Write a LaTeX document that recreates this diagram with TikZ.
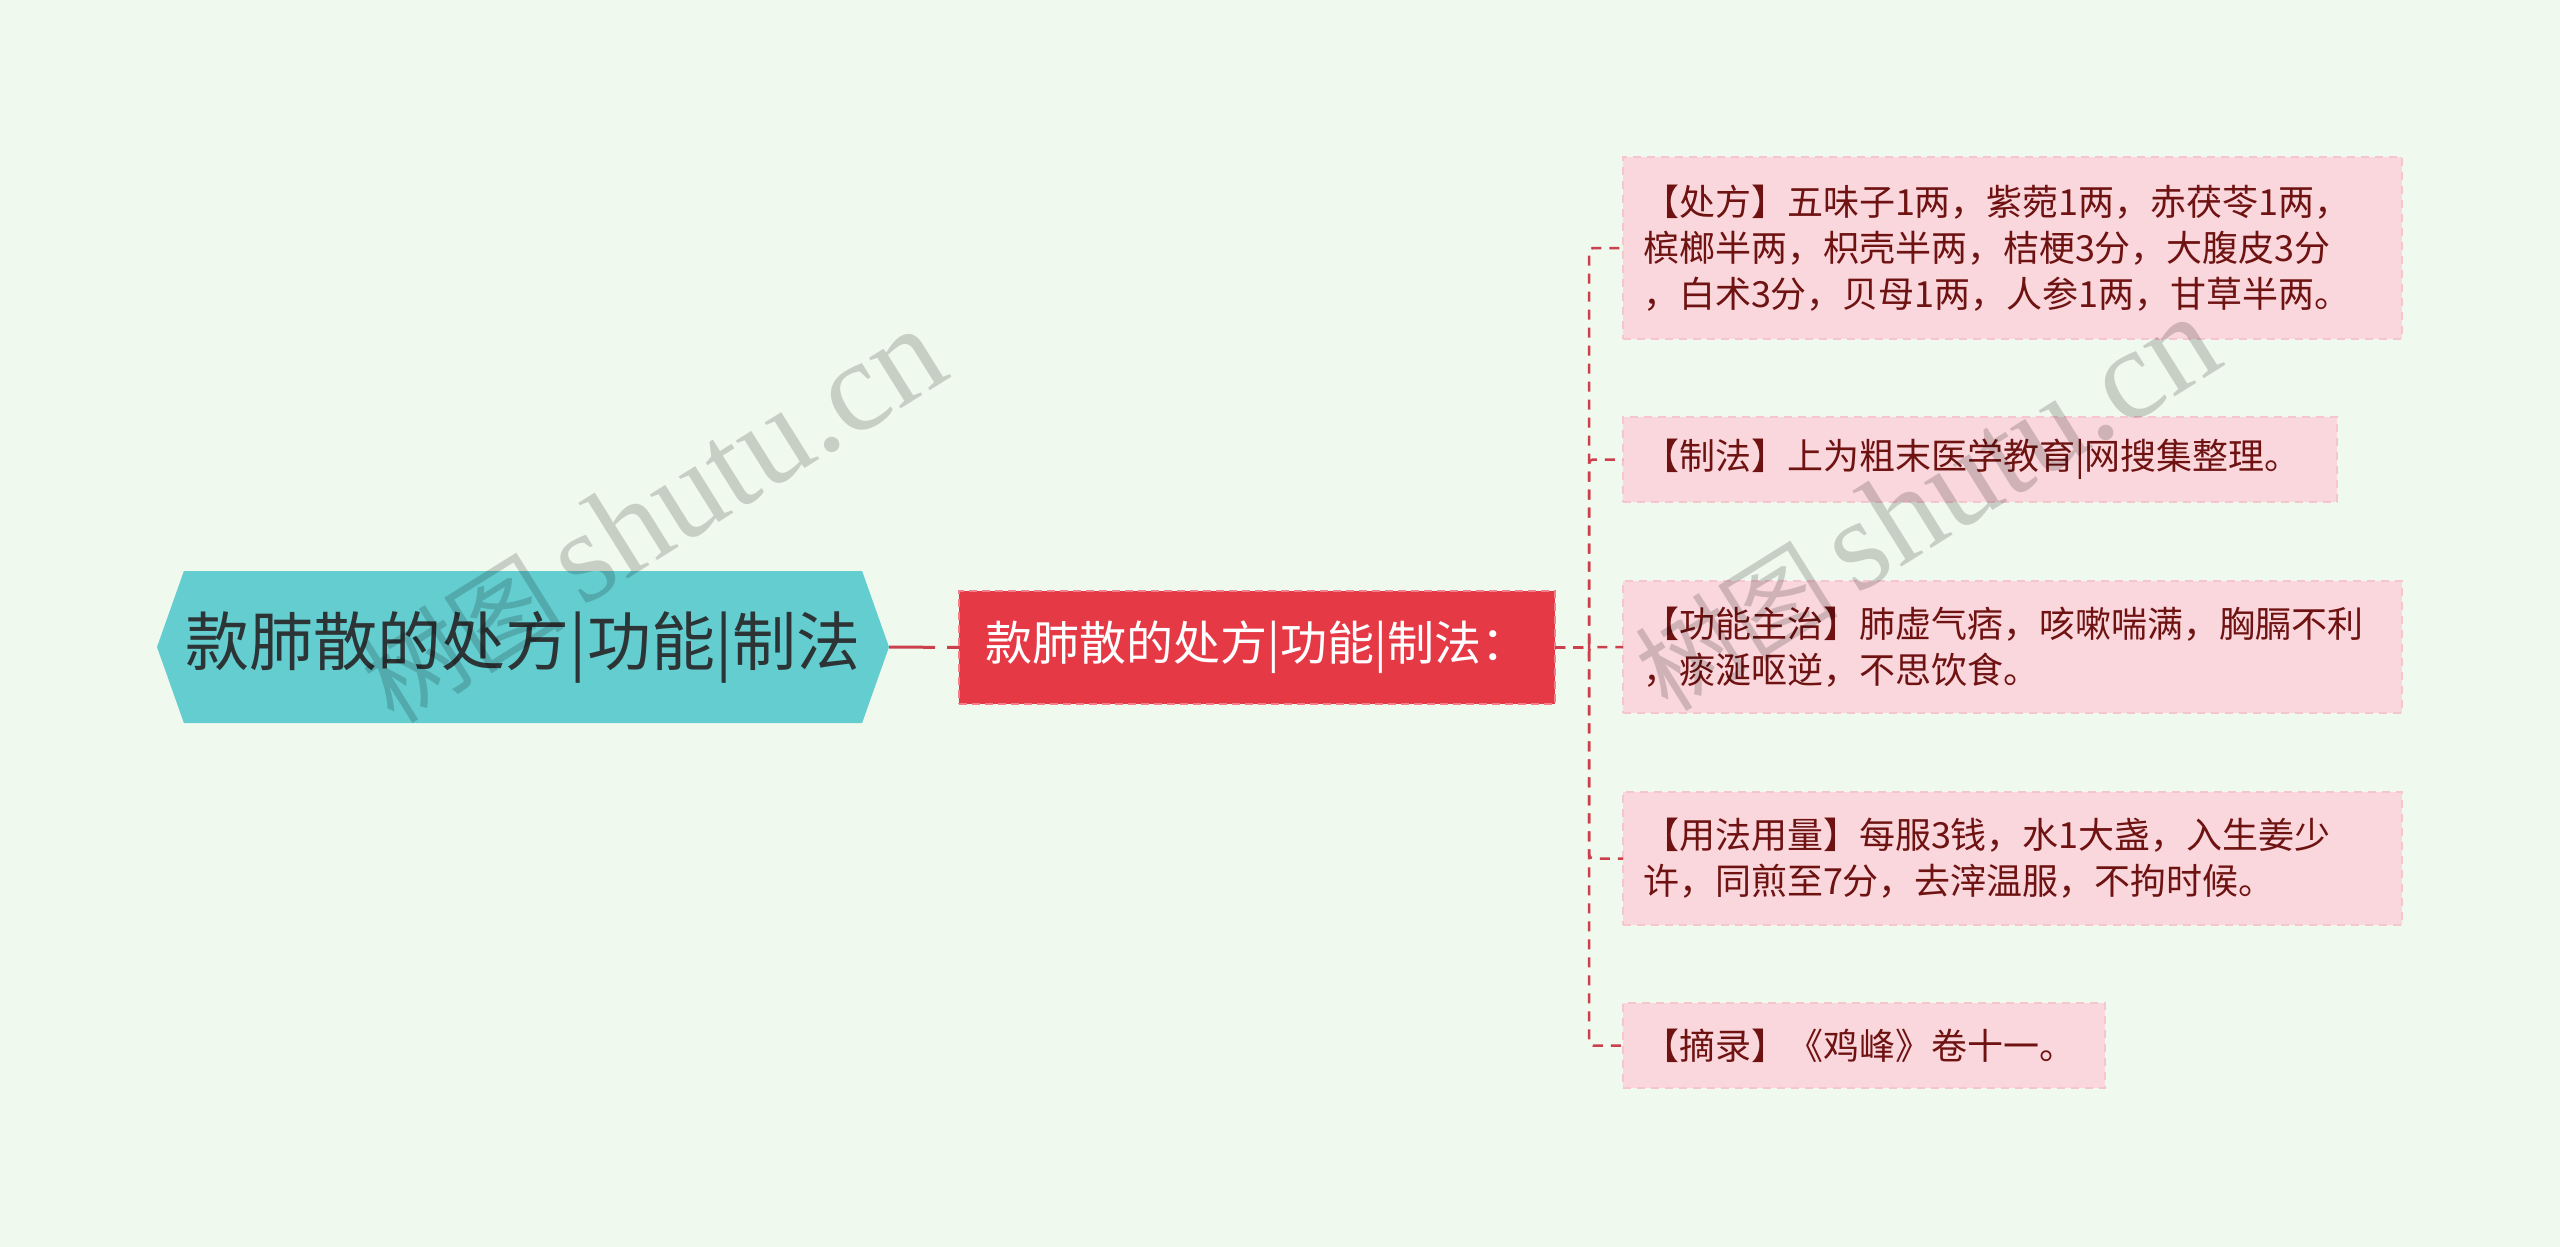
\documentclass[tikz,border=0pt]{standalone}
\usepackage{fontspec}
\setmainfont{Noto Sans CJK SC}
\newfontfamily\wmlatin{Liberation Serif}
\usepackage{tikz}
\usepackage{xcolor}
\usetikzlibrary{shapes.symbols}
\usetikzlibrary{positioning}

\definecolor{bgmint}{RGB}{240,249,238}
\definecolor{rootteal}{RGB}{99,205,207}
\definecolor{roottext}{RGB}{45,52,54}
\definecolor{hubred}{RGB}{230,57,70}
\definecolor{hubedge}{RGB}{242,128,138}
\definecolor{leafpink}{RGB}{250,215,220}
\definecolor{leafedge}{RGB}{246,198,205}
\definecolor{leaftext}{RGB}{110,18,18}
\definecolor{linkred}{RGB}{204,64,78}

\begin{document}
\begin{tikzpicture}[x=1pt, y=-1pt,
	every node/.style={inner sep=0pt, outer sep=0pt},
	rootnode/.style={signal, signal to=west and east, signal pointer angle=141, fill=rootteal, text=roottext, minimum width=732pt, minimum height=152pt, font=\fontsize{64}{70}\selectfont},
	hubnode/.style={rectangle, fill=hubred, draw=hubedge, dash pattern=on 8pt off 5pt, line width=1.5pt, text=white, minimum width=596pt, minimum height=113pt, font=\fontsize{47}{52}\selectfont},
	leaf/.style={rectangle, fill=leafpink, draw=leafedge, dash pattern=on 8pt off 6pt, line width=2pt, text=leaftext, align=left, anchor=west, inner xsep=20pt, font=\fontsize{36}{46}\selectfont},
	branch/.style={draw=linkred, line width=2.5pt, dash pattern=on 10pt off 8pt, rounded corners=4pt},
	wmark/.style={text=black, opacity=0.17, rotate=32}]
			
			\fill[bgmint] (0,0) rectangle (2560,1247);
			\useasboundingbox (0,0) rectangle (2560,1247);
			
			\node[rootnode] (root) at (523,647) {款肺散的处方|功能|制法};
			\node[hubnode] (hub) at (1257,647.5) {款肺散的处方|功能|制法：};
			
			%  leaves
			\node[leaf, text width=739pt, minimum height=182pt] (rx) at (1623,248) {【处方】五味子1两，紫菀1两，赤茯苓1两，\\槟榔半两，枳壳半两，桔梗3分，大腹皮3分\\，白术3分，贝母1两，人参1两，甘草半两。};
			\node[leaf, text width=674pt, minimum height=85pt] (prep) at (1623,459.5) {【制法】上为粗末医学教育|网搜集整理。};
			\node[leaf, text width=739pt, minimum height=132pt] (func) at (1623,647) {【功能主治】肺虚气痞，咳嗽喘满，胸膈不利\\，痰涎呕逆，不思饮食。};
			\node[leaf, text width=739pt, minimum height=133pt] (dose) at (1623,858.5) {【用法用量】每服3钱，水1大盏，入生姜少\\许，同煎至7分，去滓温服，不拘时候。};
			\node[leaf, text width=442pt, minimum height=85pt] (src) at (1623,1045.5) {【摘录】《鸡峰》卷十一。};
			
			%  for root
			\draw[draw=linkred, line width=3pt, dash pattern=on 46pt off 12pt] (root.east) -- (hub.west);
			%  for hub
			\foreach \leafname in {rx,prep,func,dose,src}
				\draw[branch] (hub.east) -- ++(34,0) |- (\leafname.west);
			
			% watermark
			\node[wmark] (wm1) at (652,516) {{\fontsize{102}{102}\selectfont 树图}\hspace{18pt}{\wmlatin\fontsize{130}{130}\selectfont shutu.cn}};
			\node[wmark] (wm2) at (1926,504) {{\fontsize{102}{102}\selectfont 树图}\hspace{18pt}{\wmlatin\fontsize{130}{130}\selectfont shutu.cn}};
		\end{tikzpicture}
\end{document}
